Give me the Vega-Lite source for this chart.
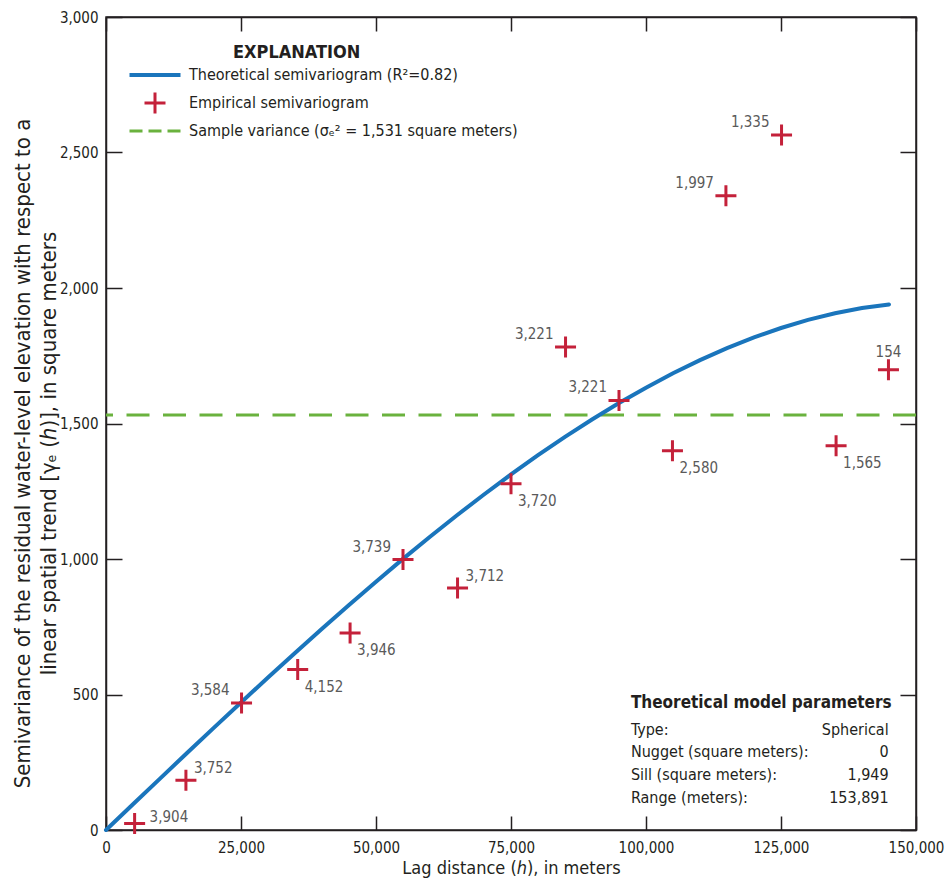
{
  "$schema": "https://vega.github.io/schema/vega-lite/v6.json",
  "width": 810,
  "height": 813,
  "autosize": "none",
  "padding": {"left": 106, "top": 17, "right": 29, "bottom": 53},
  "background": "white",
  "config": {
    "font": "DejaVu Sans Condensed, Roboto, sans-serif",
    "view": {"stroke": "#231f20", "strokeWidth": 1.5},
    "text": {"font": "DejaVu Sans Condensed, Roboto, sans-serif"},
    "axis": {
      "domainColor": "#231f20",
      "domainWidth": 1.5,
      "tickColor": "#231f20",
      "tickWidth": 1.5,
      "labelColor": "#231f20",
      "labelFont": "DejaVu Sans Condensed, Roboto, sans-serif",
      "labelFontSize": 15,
      "labelFlush": false,
      "labelOverlap": false,
      "grid": false,
      "titleColor": "#231f20",
      "titleFont": "DejaVu Sans Condensed, Roboto, sans-serif",
      "titleFontWeight": "normal",
      "titleFontSize": 18
    }
  },
  "datasets": {
    "curve": [
      {"lag": 0, "gamma": 0},
      {"lag": 5000, "gamma": 95.0},
      {"lag": 10000, "gamma": 189.7},
      {"lag": 15000, "gamma": 284.1},
      {"lag": 20000, "gamma": 377.8},
      {"lag": 25000, "gamma": 470.8},
      {"lag": 30000, "gamma": 562.7},
      {"lag": 35000, "gamma": 653.4},
      {"lag": 40000, "gamma": 742.8},
      {"lag": 45000, "gamma": 830.5},
      {"lag": 50000, "gamma": 916.4},
      {"lag": 55000, "gamma": 1000.4},
      {"lag": 60000, "gamma": 1082.1},
      {"lag": 65000, "gamma": 1161.4},
      {"lag": 70000, "gamma": 1238.1},
      {"lag": 75000, "gamma": 1312.0},
      {"lag": 80000, "gamma": 1382.9},
      {"lag": 85000, "gamma": 1450.6},
      {"lag": 90000, "gamma": 1514.8},
      {"lag": 95000, "gamma": 1575.5},
      {"lag": 100000, "gamma": 1632.3},
      {"lag": 105000, "gamma": 1685.2},
      {"lag": 110000, "gamma": 1733.8},
      {"lag": 115000, "gamma": 1778.0},
      {"lag": 120000, "gamma": 1817.6},
      {"lag": 125000, "gamma": 1852.4},
      {"lag": 130000, "gamma": 1882.2},
      {"lag": 135000, "gamma": 1906.7},
      {"lag": 140000, "gamma": 1925.9},
      {"lag": 145000, "gamma": 1939.4}
    ],
    "empirical": [
      {"lag": 5300, "gamma": 24, "pairs": 3904},
      {"lag": 14800, "gamma": 184, "pairs": 3752},
      {"lag": 25100, "gamma": 469, "pairs": 3584},
      {"lag": 35500, "gamma": 592, "pairs": 4152},
      {"lag": 45200, "gamma": 727, "pairs": 3946},
      {"lag": 55000, "gamma": 998, "pairs": 3739},
      {"lag": 65100, "gamma": 893, "pairs": 3712},
      {"lag": 75000, "gamma": 1278, "pairs": 3720},
      {"lag": 85100, "gamma": 1782, "pairs": 3221},
      {"lag": 95000, "gamma": 1585, "pairs": 3221},
      {"lag": 104900, "gamma": 1399, "pairs": 2580},
      {"lag": 114800, "gamma": 2340, "pairs": 1997},
      {"lag": 125100, "gamma": 2565, "pairs": 1335},
      {"lag": 135200, "gamma": 1418, "pairs": 1565},
      {"lag": 144900, "gamma": 1698, "pairs": 154}
    ],
    "variance": [{"gamma": 1531}],
    "params": [{"name": "Theoretical model parameters"}]
  },
  "layer": [
    {
      "encoding": {
        "x": {
          "field": "lag",
          "type": "quantitative",
          "scale": {"domain": [0, 150000], "nice": false, "zero": false},
          "axis": {
            "orient": "bottom",
            "values": [0, 25000, 50000, 75000, 100000, 125000, 150000],
            "format": ",d",
            "tickSize": -14,
            "labelPadding": 24,
            "title": "Lag distance (ℎ), in meters",
            "titlePadding": 4
          }
        },
        "y": {
          "field": "gamma",
          "type": "quantitative",
          "scale": {"domain": [0, 3000], "nice": false, "zero": false},
          "axis": {
            "orient": "left",
            "values": [0, 500, 1000, 1500, 2000, 2500, 3000],
            "format": ",d",
            "tickSize": -16,
            "labelPadding": 24,
            "title": ["Semivariance of the residual water-level elevation with respect to a", "linear spatial trend [γₑ (ℎ)], in square meters"],
            "titleLineHeight": 26,
            "titleFontSize": 22,
            "titlePadding": -1,
            "titleY": 436
          }
        }
      },
      "layer": [
        {
          "data": {"name": "variance"},
          "mark": {"type": "rule", "strokeWidth": 3, "strokeDash": [23, 13.5]},
          "encoding": {
            "x": null,
            "color": {"datum": "Sample variance (σₑ² = 1,531 square meters)"}
          }
        },
        {
          "data": {"name": "curve"},
          "mark": {"type": "line", "strokeWidth": 4, "strokeCap": "round"},
          "encoding": {
            "color": {
              "datum": "Theoretical semivariogram (R²=0.82)",
              "scale": {
                "domain": ["Theoretical semivariogram (R²=0.82)", "Empirical semivariogram", "Sample variance (σₑ² = 1,531 square meters)"],
                "range": ["#1a75bc", "#c4213a", "#6ab23e"]
              },
              "legend": {
                "orient": "none",
                "legendX": 41,
                "legendY": 27,
                "padding": 0,
                "title": "EXPLANATION",
                "titleFont": "DejaVu Sans Condensed, Roboto, sans-serif",
                "titleFontSize": 18,
                "titleFontWeight": "bold",
                "titleColor": "#231f20",
                "titlePadding": 5,
                "titleAnchor": "start",
                "symbolSize": 400,
                "symbolType": "stroke",
                "labelFont": "DejaVu Sans Condensed, Roboto, sans-serif",
                "labelFontSize": 16,
                "labelColor": "#231f20",
                "labelOffset": 26,
                "labelLimit": 500,
                "rowPadding": 3,
                "encode": {
                  "title": {"update": {"dx": {"value": 86}}},
                  "symbols": {
                    "update": {
                      "shape": {"signal": "datum.index === 1 ? 'M-1.05,0H1.05M0,-1.05V1.05' : 'M-2.55,0H2.55'"},
                      "strokeDash": {"signal": "datum.index === 2 ? [13, 6] : []"},
                      "strokeWidth": {"signal": "datum.index === 0 ? 4 : 3"},
                      "stroke": {"scale": "color", "field": "value"},
                      "fill": {"value": "transparent"},
                      "opacity": {"value": 1}
                    }
                  }
                }
              }
            }
          }
        },
        {
          "data": {"name": "empirical"},
          "mark": {"type": "point", "shape": "M-1,0H1M0,-1V1", "size": 441, "filled": false, "strokeWidth": 3, "opacity": 1},
          "encoding": {
            "color": {"datum": "Empirical semivariogram"}
          }
        },
        {
          "data": {"name": "empirical"},
          "transform": [{"filter": {"field": "pairs", "oneOf": [3584, 3739, 3221, 1997, 1335]}}],
          "mark": {"type": "text", "align": "right", "baseline": "middle", "dx": -12, "dy": -13, "fontSize": 15, "color": "#5a5a5a"},
          "encoding": {"text": {"field": "pairs", "type": "quantitative", "format": ",d"}}
        },
        {
          "data": {"name": "empirical"},
          "transform": [{"filter": {"field": "pairs", "oneOf": [4152, 3946, 3720, 2580, 1565]}}],
          "mark": {"type": "text", "align": "left", "baseline": "middle", "dx": 7, "dy": 17, "fontSize": 15, "color": "#5a5a5a"},
          "encoding": {"text": {"field": "pairs", "type": "quantitative", "format": ",d"}}
        },
        {
          "data": {"name": "empirical"},
          "transform": [{"filter": {"field": "pairs", "oneOf": [3752, 3712]}}],
          "mark": {"type": "text", "align": "left", "baseline": "middle", "dx": 8, "dy": -12, "fontSize": 15, "color": "#5a5a5a"},
          "encoding": {"text": {"field": "pairs", "type": "quantitative", "format": ",d"}}
        },
        {
          "data": {"name": "empirical"},
          "transform": [{"filter": {"field": "pairs", "oneOf": [3904]}}],
          "mark": {"type": "text", "align": "left", "baseline": "middle", "dx": 15, "dy": -6, "fontSize": 15, "color": "#5a5a5a"},
          "encoding": {"text": {"field": "pairs", "type": "quantitative", "format": ",d"}}
        },
        {
          "data": {"name": "empirical"},
          "transform": [{"filter": {"field": "pairs", "oneOf": [154]}}],
          "mark": {"type": "text", "align": "center", "baseline": "middle", "dx": 0, "dy": -18, "fontSize": 15, "color": "#5a5a5a"},
          "encoding": {"text": {"field": "pairs", "type": "quantitative", "format": ",d"}}
        }
      ]
    },
    {
      "data": {"name": "curve"},
      "mark": {"type": "point", "opacity": 0},
      "encoding": {
        "x": {
          "field": "lag",
          "type": "quantitative",
          "axis": {"orient": "top", "values": [0, 25000, 50000, 75000, 100000, 125000, 150000], "labels": false, "tickSize": -14, "title": null}
        },
        "y": {
          "field": "gamma",
          "type": "quantitative",
          "axis": {"orient": "right", "values": [0, 500, 1000, 1500, 2000, 2500, 3000], "labels": false, "tickSize": -16, "title": null}
        }
      }
    },
    {
      "data": {"name": "params"},
      "mark": {"type": "text", "align": "left", "baseline": "middle", "fontSize": 17, "fontWeight": "bold", "color": "#231f20"},
      "encoding": {
        "x": {"datum": 97200, "type": "quantitative", "axis": null},
        "y": {"datum": 470, "type": "quantitative", "axis": null},
        "text": {"field": "name"}
      }
    },
    {
      "data": {"name": "params"},
      "mark": {"type": "text", "align": "left", "baseline": "middle", "fontSize": 16, "lineHeight": 22.7, "color": "#231f20"},
      "encoding": {
        "x": {"datum": 97200, "type": "quantitative", "axis": null},
        "y": {"datum": 370, "type": "quantitative", "axis": null},
        "text": {"value": ["Type:", "Nugget (square meters):", "Sill (square meters):", "Range (meters):"]}
      }
    },
    {
      "data": {"name": "params"},
      "mark": {"type": "text", "align": "right", "baseline": "middle", "fontSize": 16, "lineHeight": 22.7, "color": "#231f20"},
      "encoding": {
        "x": {"datum": 144940, "type": "quantitative", "axis": null},
        "y": {"datum": 370, "type": "quantitative", "axis": null},
        "text": {"value": ["Spherical", "0", "1,949", "153,891"]}
      }
    }
  ],
  "resolve": {"axis": {"x": "independent", "y": "independent"}}
}
